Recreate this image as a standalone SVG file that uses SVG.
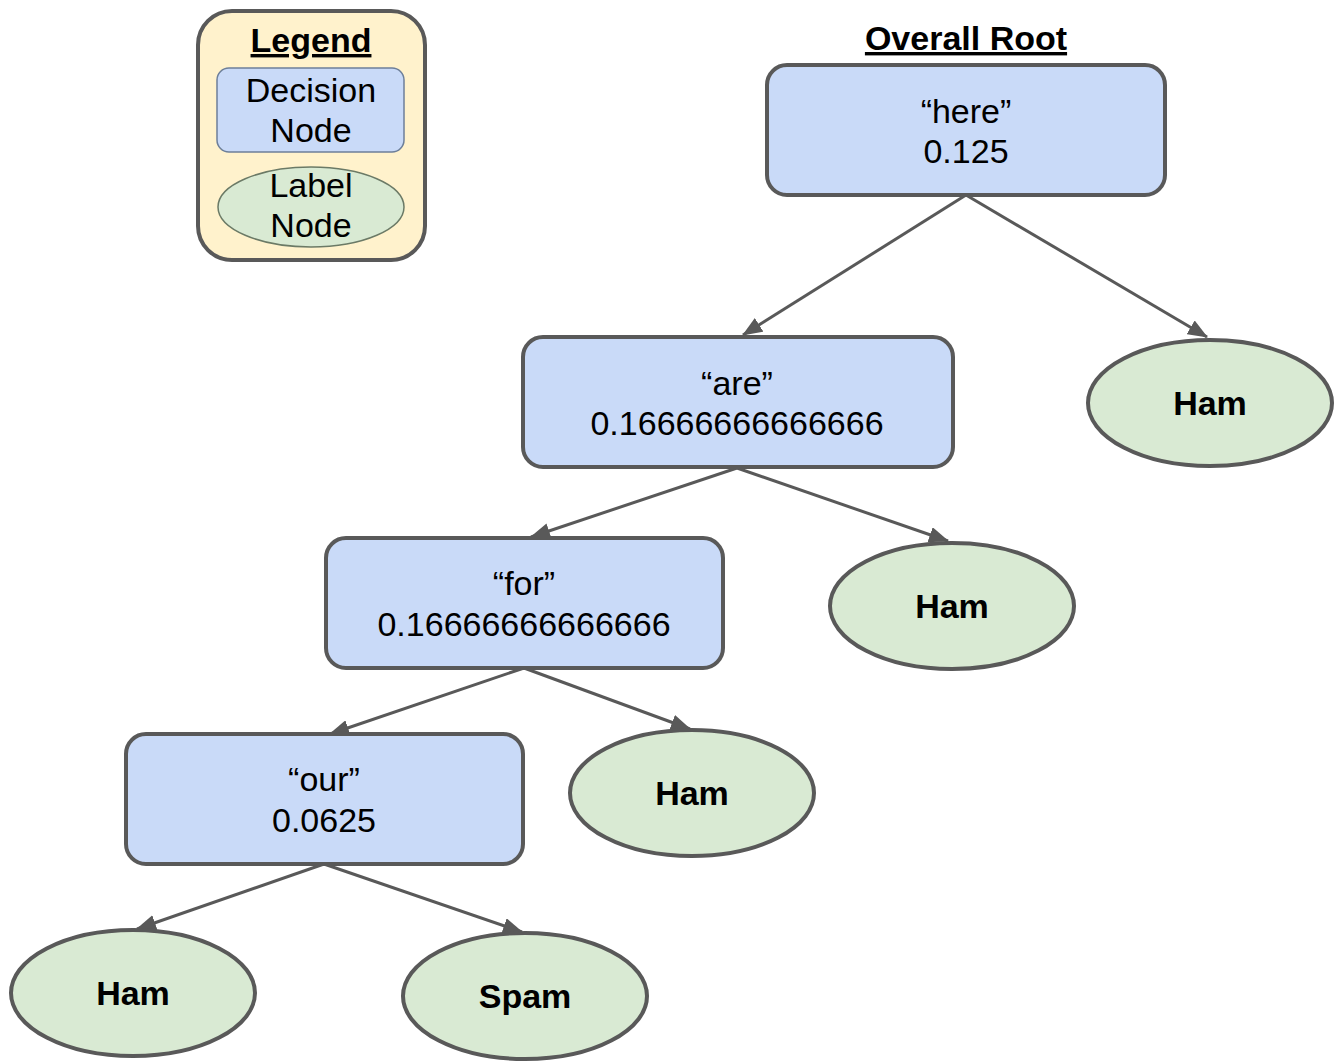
<svg xmlns="http://www.w3.org/2000/svg" width="1343" height="1061" viewBox="0 0 1343 1061">
<defs>
<style>
.t{font-family:"Liberation Sans",Arial,sans-serif;font-size:34px;fill:#000;text-anchor:middle}
.b{font-weight:bold}
.u{text-decoration:underline}
.dec{fill:#c9daf8;stroke:#595959;stroke-width:4}
.lab{fill:#d9ead3;stroke:#595959;stroke-width:4}
.edge{stroke:#595959;stroke-width:3;fill:none;marker-end:url(#ah)}
</style>
<marker id="ah" viewBox="0 0 20 16" refX="19" refY="8" markerWidth="20" markerHeight="16" markerUnits="userSpaceOnUse" orient="auto">
<path d="M0,0 L20,8 L0,16 z" fill="#595959"/>
</marker>
</defs>
<rect width="1343" height="1061" fill="#fff"/>
<g id="legend">
<rect x="198" y="11" width="227" height="249" rx="34" fill="#fff2cc" stroke="#595959" stroke-width="4"/>
<text class="t b u" x="311" y="52">Legend</text>
<rect x="217" y="68" width="187" height="84" rx="12" fill="#c9daf8" stroke="#6d7f99" stroke-width="1.5"/>
<text class="t" x="311" y="102">Decision</text>
<text class="t" x="311" y="142">Node</text>
<ellipse cx="311" cy="207" rx="93" ry="40" fill="#d9ead3" stroke="#6b7a66" stroke-width="1.5"/>
<text class="t" x="311" y="197">Label</text>
<text class="t" x="311" y="237">Node</text>
</g>
<g id="title">
<text class="t b u" x="966" y="50">Overall Root</text>
</g>
<g id="connectors">
<line class="edge" x1="966" y1="195" x2="743" y2="335"/>
<line class="edge" x1="966" y1="195" x2="1207" y2="337"/>
<line class="edge" x1="737" y1="468" x2="531" y2="537"/>
<line class="edge" x1="737" y1="468" x2="948" y2="541"/>
<line class="edge" x1="524" y1="668" x2="330" y2="734"/>
<line class="edge" x1="524" y1="668" x2="690" y2="729"/>
<line class="edge" x1="324" y1="864" x2="137" y2="929"/>
<line class="edge" x1="324" y1="864" x2="522" y2="932"/>
</g>
<g id="node-here">
<rect class="dec" x="767" y="65" width="398" height="130" rx="20"/>
<text class="t" x="966" y="123">“here”</text>
<text class="t" x="966" y="163">0.125</text>
</g>
<g id="node-ham1">
<ellipse class="lab" cx="1210" cy="403" rx="122" ry="63"/>
<text class="t b" x="1210" y="415">Ham</text>
</g>
<g id="node-are">
<rect class="dec" x="523" y="337" width="430" height="130" rx="20"/>
<text class="t" x="737" y="395">“are”</text>
<text class="t" x="737" y="435">0.16666666666666</text>
</g>
<g id="node-ham2">
<ellipse class="lab" cx="952" cy="606" rx="122" ry="63"/>
<text class="t b" x="952" y="618">Ham</text>
</g>
<g id="node-for">
<rect class="dec" x="326" y="538" width="397" height="130" rx="20"/>
<text class="t" x="524" y="595">“for”</text>
<text class="t" x="524" y="636">0.16666666666666</text>
</g>
<g id="node-ham3">
<ellipse class="lab" cx="692" cy="793" rx="122" ry="63"/>
<text class="t b" x="692" y="805">Ham</text>
</g>
<g id="node-our">
<rect class="dec" x="126" y="734" width="397" height="130" rx="20"/>
<text class="t" x="324" y="791">“our”</text>
<text class="t" x="324" y="832">0.0625</text>
</g>
<g id="node-ham4">
<ellipse class="lab" cx="133" cy="993" rx="122" ry="63"/>
<text class="t b" x="133" y="1005">Ham</text>
</g>
<g id="node-spam">
<ellipse class="lab" cx="525" cy="996" rx="122" ry="63"/>
<text class="t b" x="525" y="1008">Spam</text>
</g>
</svg>
